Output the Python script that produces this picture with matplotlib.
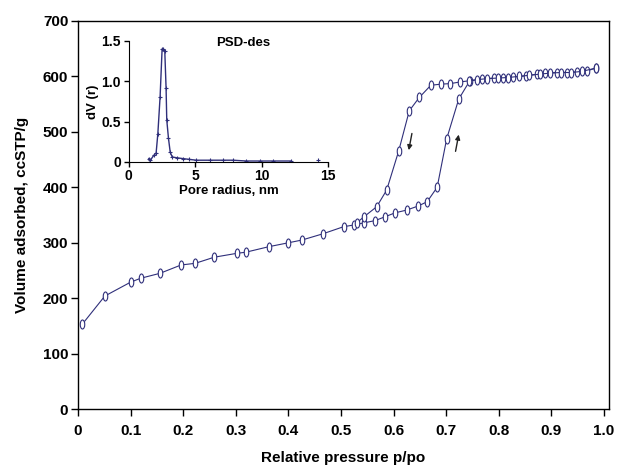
import matplotlib
matplotlib.use("Agg")
import matplotlib.pyplot as plt
from matplotlib.path import Path
from matplotlib.transforms import Affine2D

plt.rcParams['font.family'] = ['Liberation Sans', 'DejaVu Sans']
plt.rcParams['font.weight'] = 'bold'

# Adsorption branch
ads_p = [0.008, 0.051, 0.100, 0.119, 0.156, 0.196, 0.223, 0.259, 0.302, 0.319,
         0.363, 0.400, 0.426, 0.465, 0.505, 0.524, 0.544, 0.565, 0.584, 0.603,
         0.625, 0.646, 0.664, 0.683, 0.701, 0.724, 0.745, 0.768, 0.792, 0.809,
         0.828, 0.852, 0.873, 0.889, 0.911, 0.929, 0.949, 0.968, 0.985]
ads_v = [153, 204, 229, 236, 245, 260, 263, 274, 281, 283,
         293, 300, 305, 316, 329, 332, 336, 340, 347, 354,
         359, 366, 374, 400, 487, 559, 592, 595, 597, 598,
         599, 601, 604, 606, 607, 607, 608, 610, 615]

# Desorption branch
des_p = [0.985, 0.958, 0.938, 0.918, 0.898, 0.878, 0.858, 0.838, 0.818, 0.798,
         0.778, 0.758, 0.743, 0.727, 0.708, 0.690, 0.671, 0.649, 0.630, 0.610,
         0.587, 0.568, 0.544, 0.530]
des_v = [615, 609, 607, 607, 606, 604, 602, 600, 598, 597,
         596, 594, 592, 590, 587, 586, 584, 562, 538, 466,
         395, 365, 347, 336]

# Pore size distribution (inset)
psd_r = [1.51, 1.63, 1.88, 2.06, 2.19, 2.36, 2.51, 2.61, 2.71, 2.81, 2.86, 2.99,
         3.12, 3.27, 3.62, 4.07, 4.57, 5.08, 6.08, 7.09, 7.84, 8.84, 9.85,
         10.85, 12.24]
psd_dv = [0.04, 0.02, 0.08, 0.11, 0.35, 0.81, 1.40, 1.40, 1.38, 0.91, 0.52, 0.29,
          0.12, 0.06, 0.05, 0.04, 0.03, 0.02, 0.02, 0.02, 0.02, 0.01, 0.01,
          0.01, 0.01]
psd_tail_r = [14.25]
psd_tail_dv = [0.02]

xticks = [0, 0.1, 0.2, 0.3, 0.4, 0.5, 0.6, 0.7, 0.8, 0.9, 1.0]
xticklabels = ['0', '0.1', '0.2', '0.3', '0.4', '0.5', '0.6', '0.7', '0.8', '0.9', '1.0']
yticks = [0, 100, 200, 300, 400, 500, 600, 700]

navy = '#2f2f7a'
ell = Path.unit_circle().transformed(Affine2D().scale(0.5, 1.0))

fig = plt.figure(figsize=(6.19, 4.65), dpi=100)
ax = fig.add_axes([0.126, 0.120, 0.858, 0.835])

ax.plot(ads_p, ads_v, color=navy, lw=0.8, marker=ell, ms=6.5,
        mfc='white', mec=navy, mew=0.8)
ax.plot(des_p, des_v, color=navy, lw=0.8, marker=ell, ms=6.5,
        mfc='white', mec=navy, mew=0.8)

ax.annotate('', xy=(0.628, 462), xytext=(0.636, 502),
            arrowprops=dict(arrowstyle='-|>', color='#222222', lw=1.0,
                            mutation_scale=7))
ax.annotate('', xy=(0.725, 500), xytext=(0.717, 460),
            arrowprops=dict(arrowstyle='-|>', color='#222222', lw=1.0,
                            mutation_scale=7))

ax.set_xlim(0, 1.01)
ax.set_ylim(0, 700)
ax.set_xticks(xticks)
ax.set_xticklabels(xticklabels)
ax.set_yticks(yticks)
ax.tick_params(direction='out', length=5, width=1, labelsize=11, pad=3)
ax.tick_params(axis='y', pad=2)
ax.tick_params(axis='x', pad=6)
for s in ax.spines.values():
    s.set_linewidth(1.0)
ax.set_xlabel('Relative pressure p/po', fontsize=11, fontweight='bold', labelpad=9)
ax.set_ylabel('Volume adsorbed, ccSTP/g', fontsize=11, fontweight='bold', labelpad=10)

# Inset
axi = fig.add_axes([0.208, 0.652, 0.322, 0.260])
axi.plot(psd_r, psd_dv, color=navy, lw=1.0, marker='+', ms=3, mew=0.8)
axi.plot(psd_tail_r, psd_tail_dv, color=navy, lw=0, marker='+', ms=3, mew=0.8)
axi.set_xlim(0, 15)
axi.set_ylim(0, 1.5)
axi.set_xticks([0, 5, 10, 15])
axi.set_yticks([0, 0.5, 1.0, 1.5])
axi.set_yticklabels(['0', '0.5', '1.0', '1.5'])
axi.spines['top'].set_visible(False)
axi.spines['right'].set_visible(False)
axi.tick_params(direction='out', length=3.5, width=1, labelsize=10, pad=2)
axi.set_xlabel('Pore radius, nm', fontsize=9.5, fontweight='bold', labelpad=1)
axi.set_ylabel('dV (r)', fontsize=9.5, fontweight='bold', labelpad=2)
axi.text(8.6, 1.47, 'PSD-des', fontsize=9.5, fontweight='bold', ha='center', va='center')
axi.patch.set_alpha(0)

fig.savefig('out.png', dpi=100)
